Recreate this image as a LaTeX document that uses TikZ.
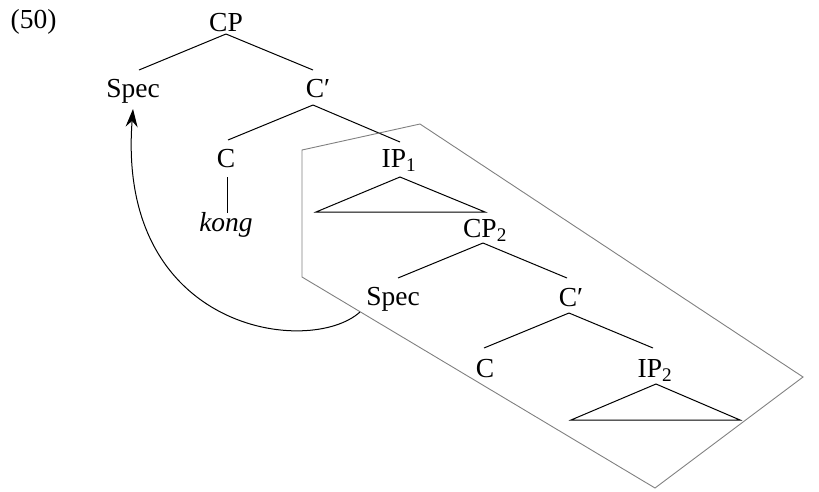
\documentclass[tikz,border=0pt]{standalone}
\usepackage{fontspec}
\setmainfont{Liberation Serif}
\usetikzlibrary{arrows.meta}
\begin{document}
\begin{tikzpicture}[x=1pt,y=-1pt,
  lab/.style={anchor=base,inner sep=0pt,font=\fontsize{27.5}{32}\selectfont},
  branch/.style={line width=1pt,black},
  frame/.style={line width=0.9pt,black!50},
  move/.style={line width=1pt,-{Stealth[length=18pt,width=12pt,inset=6pt]}}]
\useasboundingbox (0,0) rectangle (819,491);

% example number
\node[lab] (ex) at (33.5,28) {(50)};

% upper clause
\node[lab] (cp) at (226,31) {CP};
\node[lab] (spec1) at (133,97) {Spec};
\node[lab] (cbar1) at (318,97) {C′};
\node[lab] (c1) at (226,167) {C};
\node[lab] (ip1) at (399,167) {IP\textsubscript{1}};
\node[lab] (kong) at (226,231) {\itshape kong};

% embedded clause
\node[lab] (cp2) at (485,237) {CP\textsubscript{2}};
\node[lab] (spec2) at (393,305) {Spec};
\node[lab] (cbar2) at (571,306) {C′};
\node[lab] (c2) at (485,377) {C};
\node[lab] (ip2) at (655,377) {IP\textsubscript{2}};

% branches
\draw[branch] ([yshift=-3pt]cp.base) -- ([xshift=6pt,yshift=27pt]spec1.base);
\draw[branch] ([yshift=-3pt]cp.base) -- ([xshift=-5pt,yshift=27pt]cbar1.base);
\draw[branch] ([xshift=-5pt,yshift=-8pt]cbar1.base) -- ([xshift=2pt,yshift=27pt]c1.base);
\draw[branch] ([xshift=-5pt,yshift=-8pt]cbar1.base) -- ([xshift=1pt,yshift=25pt]ip1.base);
\draw[branch] ([xshift=1pt,yshift=-10pt]c1.base) -- ([xshift=1pt,yshift=18pt]kong.base);
\draw[branch] ([xshift=1pt,yshift=-10pt]ip1.base) -- ([xshift=-83pt,yshift=-45pt]ip1.base)
  -- ([xshift=86pt,yshift=-45pt]ip1.base) -- cycle;

\draw[branch] ([xshift=-2pt,yshift=-6pt]cp2.base) -- ([xshift=5pt,yshift=27pt]spec2.base);
\draw[branch] ([xshift=-2pt,yshift=-6pt]cp2.base) -- ([xshift=-4pt,yshift=28pt]cbar2.base);
\draw[branch] ([xshift=-2pt,yshift=-7pt]cbar2.base) -- ([xshift=-1pt,yshift=29pt]c2.base);
\draw[branch] ([xshift=-2pt,yshift=-7pt]cbar2.base) -- ([xshift=-2pt,yshift=29pt]ip2.base);
\draw[branch] ([xshift=1pt,yshift=-7pt]ip2.base) -- ([xshift=-84pt,yshift=-43pt]ip2.base)
  -- ([xshift=85pt,yshift=-43pt]ip2.base) -- cycle;

% region of the embedded material
\draw[frame] (302,150) -- (420,124) -- (803,377) -- (655,488) -- (302,277) -- cycle;

% movement of Spec
\draw[move] ([xshift=-33pt,yshift=-7pt]spec2.base) .. controls (310,357) and (116,332)
  .. ([xshift=0pt,yshift=-12pt]spec1.base);
\end{tikzpicture}
\end{document}
